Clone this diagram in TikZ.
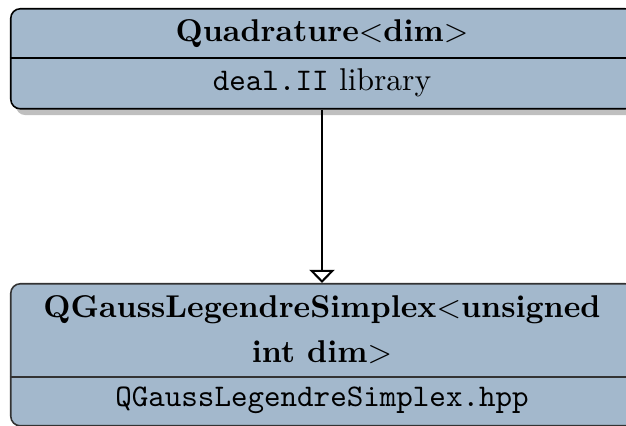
\documentclass[tikz,border=0pt]{standalone}
\usetikzlibrary{shadows,arrows.meta}
\definecolor{boxfill}{RGB}{163,184,204}
\begin{document}
\begin{tikzpicture}[x=0.3175pt,y=-0.3175pt,
  umlbox/.style={draw=black, line width=0.5pt, fill=boxfill, rounded corners=3pt,
    inner sep=0pt, minimum width={624*0.3175pt}, anchor=north west,
    drop shadow={shadow xshift=1.6pt, shadow yshift=-2pt, fill=black!25, opacity=1}},
  divider/.style={draw=black, line width=0.5pt},
  title/.style={font=\bfseries, inner sep=0pt, anchor=base, align=center},
  sub/.style={inner sep=0pt, anchor=base},
  inherit/.style={line width=0.65pt, -{Triangle[open, width=8pt, length=4.2pt, fill=white]}}
]
\useasboundingbox (0,0) rectangle (626,426);
% top class
\node[umlbox, minimum height={100*0.3175pt}] (top) at (10,8) {};
\coordinate (tdl) at (10,58);
\coordinate (tdr) at (634,58);
\draw[divider] (tdl) -- (tdr);
\node[title] (toptitle) at (322,41.7) {Quadrature$<$dim$>$};
\node[sub] (topsub) at (322,90.7) {\texttt{deal.II} library};
% bottom class
\node[umlbox, draw=black!80, minimum height={142*0.3175pt}] (bot) at (10,283) {};
\coordinate (bdl) at (10,377);
\coordinate (bdr) at (634,377);
\draw[divider, draw=black!80] (bdl) -- (bdr);
\node[title] (bottitle) at (322,363) {QGaussLegendreSimplex$<$unsigned\\[2.3pt]int dim$>$};
\node[sub] (botsub) at (322,407) {\texttt{QGaussLegendreSimplex.hpp}};
% inheritance
\draw[inherit] (top.south -| toptitle.south) -- (bot.north -| toptitle.south);
\end{tikzpicture}
\end{document}
